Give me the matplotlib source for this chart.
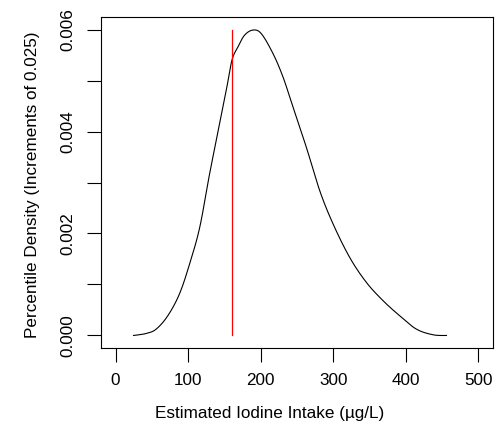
import numpy as np
import matplotlib.pyplot as plt

plt.rcParams['font.family'] = ['Liberation Sans', 'DejaVu Sans']

# density curve
intake = [24.8, 42.3, 56, 72, 88, 102, 116, 129.6, 143.4, 152.6, 160.4, 168.7,
          177.8, 189.3, 200.8, 216.9, 230.7, 244.5, 262.9, 281.3, 299.6, 322.6,
          345.6, 368.6, 391.5, 414.5, 437.5, 455.9]
density = [0.0, 0.000039, 0.000124, 0.000386, 0.000812, 0.0014, 0.00212, 0.00317,
           0.00415, 0.00481, 0.0054, 0.00566, 0.00589, 0.00599, 0.00592, 0.00553,
           0.00507, 0.00448, 0.00369, 0.00284, 0.00219, 0.00153, 0.00104, 0.000681,
           0.000386, 0.000124, 0.000013, 0.0]
cutoff = 160

x_ticks = [0, 100, 200, 300, 400, 500]
y_ticks = [0, 0.001, 0.002, 0.003, 0.004, 0.005, 0.006]
y_labels = ["0.000", "", "0.002", "", "0.004", "", "0.006"]


def catmull(pts_x, pts_y, n=20):
    # Catmull-Rom spline through the read points, just for a smooth line
    px = np.r_[pts_x[0], pts_x, pts_x[-1]]
    py = np.r_[pts_y[0], pts_y, pts_y[-1]]
    ox, oy = [], []
    for i in range(1, len(px) - 2):
        u = np.linspace(0, 1, n, endpoint=False)
        for arr, out in ((px, ox), (py, oy)):
            p0, p1, p2, p3 = arr[i-1], arr[i], arr[i+1], arr[i+2]
            out.extend(0.5 * ((2*p1) + (-p0 + p2)*u + (2*p0 - 5*p1 + 4*p2 - p3)*u**2
                              + (-p0 + 3*p1 - 3*p2 + p3)*u**3))
    ox.append(pts_x[-1])
    oy.append(pts_y[-1])
    return np.array(ox), np.array(oy)


cx, cy = catmull(np.array(intake), np.array(density))

fig = plt.figure(figsize=(5.04, 4.24), dpi=100)
ax = fig.add_axes([101/504, 1 - 347.7/424, 392/504, 330.4/424])

ax.plot(cx, cy, color='black', lw=0.8)
ax.plot([cutoff, cutoff], [0, 0.006], color='red', lw=0.9)

ax.set_xlim(-20, 520)
ax.set_ylim(-0.00024, 0.00624)
ax.set_xticks(x_ticks)
ax.set_yticks(y_ticks)
ax.set_yticklabels(y_labels, rotation=90, va='center')
ax.tick_params(direction='out', length=10, width=0.8, labelsize=12.3, colors='black')
ax.tick_params(axis='x', pad=8.5)
ax.tick_params(axis='y', pad=8.5)
for s in ax.spines.values():
    s.set_linewidth(0.8)

ax.set_xlabel("Estimated Iodine Intake (\u00b5g/L)", fontsize=12.3, va='center')
ax.xaxis.set_label_coords(0.431, -0.198)
ax.set_ylabel("Percentile Density (Increments of 0.025)", fontsize=12.3, va='center')
ax.yaxis.set_label_coords(-0.1735, 0.494)

fig.savefig("out.png", dpi=100)
